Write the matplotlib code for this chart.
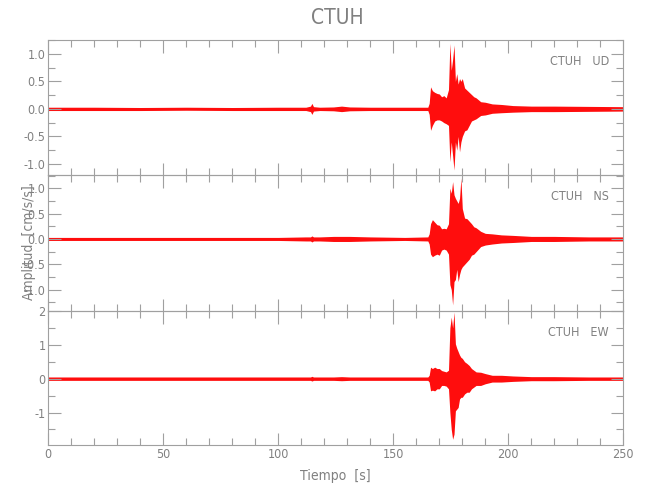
import matplotlib
matplotlib.use("Agg")
import matplotlib.pyplot as plt
from matplotlib.ticker import MultipleLocator, FormatStrFormatter

# ---------------- data (envelope of each trace) -------------
station = "CTUH"
components = ["UD", "NS", "EW"]
time_s = [0, 20, 40, 60, 80, 100, 112, 114, 114.6, 115.3, 118, 124, 127.5, 131, 140, 155,
          165, 165.6, 166.2, 167, 168, 169, 170, 171, 172, 173, 174, 174.6, 175.2, 175.8,
          176.4, 177, 177.6, 178.2, 178.8, 179.4, 180, 181, 182, 183, 184, 185, 186, 188,
          190, 193, 197, 202, 210, 220, 235, 250]

ud_upper = [0.03, 0.03, 0.025, 0.03, 0.025, 0.03, 0.03, 0.05, 0.10, 0.04, 0.03, 0.035, 0.05, 0.035, 0.03, 0.03,
            0.03, 0.10, 0.40, 0.33, 0.30, 0.28, 0.27, 0.22, 0.24, 0.20, 0.35, 1.19, 0.70, 0.90,
            1.16, 0.50, 0.64, 0.45, 0.55, 0.50, 0.55, 0.38, 0.34, 0.30, 0.26, 0.22, 0.20, 0.13,
            0.12, 0.09, 0.08, 0.06, 0.05, 0.05, 0.045, 0.04]
ud_lower = [-0.03, -0.03, -0.03, -0.025, -0.03, -0.03, -0.03, -0.05, -0.10, -0.04, -0.03, -0.035, -0.05, -0.035, -0.03, -0.03,
            -0.03, -0.10, -0.39, -0.30, -0.22, -0.20, -0.20, -0.22, -0.25, -0.27, -0.30, -0.96, -0.60, -0.85,
            -1.11, -0.60, -0.75, -0.50, -0.78, -0.60, -0.50, -0.40, -0.38, -0.30, -0.22, -0.20, -0.18, -0.12,
            -0.11, -0.08, -0.07, -0.06, -0.05, -0.05, -0.045, -0.04]

ns_upper = [0.03, 0.03, 0.03, 0.03, 0.03, 0.03, 0.04, 0.04, 0.06, 0.04, 0.04, 0.05, 0.05, 0.05, 0.04, 0.03,
            0.04, 0.10, 0.30, 0.38, 0.33, 0.28, 0.27, 0.20, 0.21, 0.20, 0.30, 1.00, 0.90, 1.13,
            0.87, 0.80, 0.75, 0.70, 0.80, 1.20, 0.60, 0.41, 0.40, 0.35, 0.30, 0.24, 0.22, 0.15,
            0.11, 0.10, 0.08, 0.07, 0.05, 0.05, 0.04, 0.04]
ns_lower = [-0.03, -0.03, -0.03, -0.03, -0.03, -0.03, -0.04, -0.04, -0.06, -0.04, -0.04, -0.05, -0.05, -0.05, -0.04, -0.03,
            -0.04, -0.10, -0.30, -0.35, -0.32, -0.30, -0.32, -0.22, -0.20, -0.22, -0.30, -0.90, -1.00, -1.30,
            -0.84, -0.80, -0.60, -0.84, -0.70, -0.60, -0.55, -0.50, -0.45, -0.40, -0.32, -0.30, -0.25, -0.15,
            -0.12, -0.10, -0.08, -0.07, -0.05, -0.05, -0.04, -0.04]

ew_upper = [0.05, 0.05, 0.05, 0.05, 0.05, 0.05, 0.05, 0.05, 0.07, 0.05, 0.05, 0.05, 0.06, 0.05, 0.05, 0.05,
            0.05, 0.10, 0.34, 0.30, 0.34, 0.30, 0.30, 0.24, 0.22, 0.20, 0.25, 1.50, 1.82, 1.50,
            1.97, 1.03, 0.90, 0.80, 0.70, 0.63, 0.60, 0.50, 0.45, 0.39, 0.30, 0.25, 0.20, 0.19,
            0.15, 0.10, 0.10, 0.08, 0.06, 0.06, 0.05, 0.05]
ew_lower = [-0.05, -0.05, -0.05, -0.05, -0.05, -0.05, -0.05, -0.05, -0.07, -0.05, -0.05, -0.05, -0.06, -0.05, -0.05, -0.05,
            -0.05, -0.10, -0.36, -0.34, -0.36, -0.30, -0.30, -0.20, -0.20, -0.22, -0.30, -1.00, -1.50, -1.79,
            -1.64, -0.95, -0.90, -0.85, -0.60, -0.55, -0.55, -0.45, -0.40, -0.40, -0.30, -0.25, -0.20, -0.20,
            -0.15, -0.10, -0.10, -0.08, -0.06, -0.06, -0.05, -0.05]

uppers = [ud_upper, ns_upper, ew_upper]
lowers = [ud_lower, ns_lower, ew_lower]
ylims = [(-1.2, 1.25), (-1.42, 1.26), (-1.96, 2.0)]
y_major = [0.5, 0.5, 1.0]
y_minor = [0.25, 0.25, 0.5]
y_fmt = ["%.1f", "%.1f", "%d"]

# ---------------- style ----------------
plt.rcParams['font.family'] = ["DejaVu Sans"]
plt.rcParams['font.stretch'] = "condensed"
plt.rcParams['axes.unicode_minus'] = True
GRAY_TXT = "#808080"
GRAY_AX = "#a0a0a0"

fig = plt.figure(figsize=(6.5, 5.0), dpi=100)
left, width = 48.3 / 650, 575 / 650
panels_px = [(40, 175), (175, 311), (311, 445)]

for i, comp in enumerate(components):
    top_px, bot_px = panels_px[i]
    ax = fig.add_axes([left, 1 - bot_px / 500, width, (bot_px - top_px) / 500])
    ax.fill_between(time_s, lowers[i], uppers[i], color="#ff0000", linewidth=0,
                    alpha=0.95, clip_on=False)
    ax.set_xlim(0, 250)
    ax.set_ylim(*ylims[i])
    ax.xaxis.set_major_locator(MultipleLocator(50))
    ax.xaxis.set_minor_locator(MultipleLocator(10))
    ax.yaxis.set_major_locator(MultipleLocator(y_major[i]))
    ax.yaxis.set_minor_locator(MultipleLocator(y_minor[i]))
    ax.yaxis.set_major_formatter(FormatStrFormatter(y_fmt[i]))
    ax.tick_params(which="both", direction="in", top=True, right=True,
                   color=GRAY_AX, labelcolor=GRAY_TXT, labelsize=9, width=0.8)
    ax.tick_params(which="major", length=9, pad=2)
    ax.tick_params(which="minor", length=5)
    for s in ax.spines.values():
        s.set_color(GRAY_AX)
        s.set_linewidth(0.8)
    if i < 2:
        ax.tick_params(labelbottom=False)
    else:
        ax.set_xlabel("Tiempo  [s]", color=GRAY_TXT, fontsize=10, labelpad=6)
    ax.text(0.975, 0.84, f"{station}   {comp}", transform=ax.transAxes,
            ha="right", va="center", color=GRAY_TXT, fontsize=9)
    ax.patch.set_alpha(0)

fig.text(337 / 650, 1 - 18 / 500, station, ha="center", va="center",
         color=GRAY_TXT, fontsize=15)
fig.text(29 / 650, 1 - 243 / 500, "Amplitud  [cm/s/s]", rotation=90,
         ha="center", va="center", color=GRAY_TXT, fontsize=10)

fig.savefig("out.png", dpi=100)
